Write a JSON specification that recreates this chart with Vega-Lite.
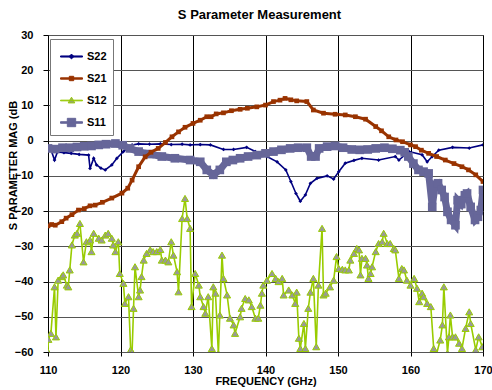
{
  "$schema": "https://vega.github.io/schema/vega-lite/v6.json",
  "width": 435,
  "height": 317,
  "autosize": "none",
  "padding": {"left": 48, "top": 35, "right": 9, "bottom": 38},
  "background": "white",
  "config": {"font": "Liberation Sans", "view": {"stroke": "black", "strokeWidth": 1}},
  "title": {"text": "S Parameter Measurement", "font": "Liberation Sans", "fontSize": 13, "fontWeight": "bold", "color": "black", "anchor": "middle", "offset": 7, "dx": -6},
  "datasets": {
    "s22": [
      {"s":"S22","f":110.0,"db":-2.0},{"s":"S22","f":110.4,"db":-2.5},{"s":"S22","f":110.9,"db":-5.5},{"s":"S22","f":111.3,"db":-3.2},
      {"s":"S22","f":112.2,"db":-3.4},{"s":"S22","f":113.2,"db":-3.6},{"s":"S22","f":114.3,"db":-3.9},{"s":"S22","f":115.6,"db":-4.1},
      {"s":"S22","f":115.8,"db":-7.9},{"s":"S22","f":116.3,"db":-5.0},{"s":"S22","f":116.7,"db":-6.9},{"s":"S22","f":117.3,"db":-7.8},
      {"s":"S22","f":117.9,"db":-8.3},{"s":"S22","f":118.8,"db":-6.9},{"s":"S22","f":119.5,"db":-5.0},{"s":"S22","f":120.4,"db":-3.1},
      {"s":"S22","f":121.6,"db":-1.2},{"s":"S22","f":122.5,"db":-0.9},{"s":"S22","f":124.0,"db":-1.0},{"s":"S22","f":125.5,"db":-0.9},
      {"s":"S22","f":127.0,"db":-1.1},{"s":"S22","f":128.5,"db":-1.0},{"s":"S22","f":129.6,"db":-1.2},{"s":"S22","f":131.0,"db":-1.1},
      {"s":"S22","f":132.4,"db":-1.2},{"s":"S22","f":134.2,"db":-2.5},{"s":"S22","f":135.6,"db":-2.5},{"s":"S22","f":137.4,"db":-1.9},
      {"s":"S22","f":138.6,"db":-3.1},{"s":"S22","f":140.2,"db":-4.5},{"s":"S22","f":141.6,"db":-6.0},{"s":"S22","f":142.8,"db":-8.3},
      {"s":"S22","f":143.5,"db":-11.6},{"s":"S22","f":144.2,"db":-15.0},{"s":"S22","f":144.8,"db":-17.2},{"s":"S22","f":145.5,"db":-15.4},
      {"s":"S22","f":146.2,"db":-12.1},{"s":"S22","f":147.1,"db":-10.7},{"s":"S22","f":148.5,"db":-10.0},{"s":"S22","f":149.4,"db":-10.9},
      {"s":"S22","f":150.1,"db":-8.8},{"s":"S22","f":151.0,"db":-6.4},{"s":"S22","f":152.2,"db":-5.6},{"s":"S22","f":153.3,"db":-5.0},
      {"s":"S22","f":155.6,"db":-5.5},{"s":"S22","f":157.9,"db":-4.5},{"s":"S22","f":158.4,"db":-5.5},{"s":"S22","f":159.8,"db":-3.1},
      {"s":"S22","f":161.6,"db":-4.0},{"s":"S22","f":162.3,"db":-6.0},{"s":"S22","f":163.0,"db":-4.5},{"s":"S22","f":163.9,"db":-2.7},
      {"s":"S22","f":165.8,"db":-1.9},{"s":"S22","f":168.1,"db":-2.1},{"s":"S22","f":170.0,"db":-1.2}
    ],
    "s21": [
      {"s":"S21","f":110.0,"db":-24.2},{"s":"S21","f":110.5,"db":-23.8},{"s":"S21","f":111.0,"db":-24.0},{"s":"S21","f":111.9,"db":-23.0},
      {"s":"S21","f":112.5,"db":-22.0},{"s":"S21","f":113.3,"db":-21.0},{"s":"S21","f":114.2,"db":-19.7},{"s":"S21","f":115.0,"db":-19.3},
      {"s":"S21","f":115.8,"db":-18.5},{"s":"S21","f":116.5,"db":-18.3},{"s":"S21","f":117.5,"db":-17.5},{"s":"S21","f":118.8,"db":-16.3},
      {"s":"S21","f":120.2,"db":-14.9},{"s":"S21","f":121.0,"db":-13.5},{"s":"S21","f":121.6,"db":-11.2},{"s":"S21","f":122.5,"db":-7.4},
      {"s":"S21","f":123.4,"db":-4.6},{"s":"S21","f":124.2,"db":-3.3},{"s":"S21","f":125.2,"db":-2.2},{"s":"S21","f":126.2,"db":-0.5},
      {"s":"S21","f":127.1,"db":1.1},{"s":"S21","f":128.0,"db":2.5},{"s":"S21","f":128.9,"db":3.8},{"s":"S21","f":130.0,"db":4.9},
      {"s":"S21","f":131.0,"db":5.8},{"s":"S21","f":131.9,"db":6.8},{"s":"S21","f":132.5,"db":6.8},{"s":"S21","f":133.2,"db":7.6},
      {"s":"S21","f":134.2,"db":7.9},{"s":"S21","f":135.3,"db":8.5},{"s":"S21","f":136.5,"db":8.9},{"s":"S21","f":137.5,"db":9.2},
      {"s":"S21","f":138.8,"db":9.6},{"s":"S21","f":140.0,"db":10.1},{"s":"S21","f":141.1,"db":11.1},{"s":"S21","f":142.0,"db":11.5},
      {"s":"S21","f":142.7,"db":12.0},{"s":"S21","f":143.5,"db":11.6},{"s":"S21","f":144.3,"db":11.3},{"s":"S21","f":145.7,"db":11.1},
      {"s":"S21","f":146.6,"db":8.7},{"s":"S21","f":148.0,"db":7.8},{"s":"S21","f":149.6,"db":7.5},{"s":"S21","f":151.0,"db":7.3},
      {"s":"S21","f":152.4,"db":6.8},{"s":"S21","f":153.8,"db":6.1},{"s":"S21","f":155.2,"db":4.0},{"s":"S21","f":156.0,"db":2.8},
      {"s":"S21","f":157.0,"db":1.1},{"s":"S21","f":158.0,"db":0.2},{"s":"S21","f":158.9,"db":-0.3},{"s":"S21","f":160.0,"db":-1.2},
      {"s":"S21","f":160.7,"db":-1.7},{"s":"S21","f":161.5,"db":-2.7},{"s":"S21","f":162.5,"db":-3.6},{"s":"S21","f":163.6,"db":-4.5},
      {"s":"S21","f":164.8,"db":-5.5},{"s":"S21","f":166.0,"db":-6.5},{"s":"S21","f":167.1,"db":-7.4},{"s":"S21","f":168.0,"db":-8.3},
      {"s":"S21","f":169.0,"db":-9.7},{"s":"S21","f":170.0,"db":-11.6}
    ],
    "s11": [
      {"s":"S11","f":110.0,"db":-2.2},{"s":"S11","f":111.0,"db":-2.4},{"s":"S11","f":112.0,"db":-2.0},{"s":"S11","f":113.0,"db":-2.0},
      {"s":"S11","f":114.0,"db":-1.8},{"s":"S11","f":115.0,"db":-1.6},{"s":"S11","f":116.0,"db":-1.5},{"s":"S11","f":117.0,"db":-1.2},
      {"s":"S11","f":118.0,"db":-1.0},{"s":"S11","f":119.3,"db":-0.8},{"s":"S11","f":120.3,"db":-1.3},{"s":"S11","f":121.3,"db":-2.2},
      {"s":"S11","f":122.5,"db":-3.1},{"s":"S11","f":124.0,"db":-3.8},{"s":"S11","f":125.7,"db":-4.5},{"s":"S11","f":127.5,"db":-5.0},
      {"s":"S11","f":129.6,"db":-5.5},{"s":"S11","f":131.0,"db":-6.0},{"s":"S11","f":131.9,"db":-8.3},{"s":"S11","f":132.8,"db":-9.7},
      {"s":"S11","f":133.7,"db":-8.3},{"s":"S11","f":134.6,"db":-6.0},{"s":"S11","f":135.5,"db":-5.5},{"s":"S11","f":136.5,"db":-5.0},
      {"s":"S11","f":137.6,"db":-4.5},{"s":"S11","f":138.8,"db":-4.1},{"s":"S11","f":140.0,"db":-3.6},{"s":"S11","f":141.1,"db":-3.1},
      {"s":"S11","f":142.2,"db":-2.6},{"s":"S11","f":143.4,"db":-2.2},{"s":"S11","f":144.5,"db":-2.0},{"s":"S11","f":145.7,"db":-2.0},
      {"s":"S11","f":146.3,"db":-4.5},{"s":"S11","f":146.9,"db":-4.5},{"s":"S11","f":147.4,"db":-2.2},{"s":"S11","f":148.5,"db":-1.7},
      {"s":"S11","f":149.6,"db":-1.5},{"s":"S11","f":150.7,"db":-2.0},{"s":"S11","f":151.9,"db":-2.5},{"s":"S11","f":153.0,"db":-2.6},
      {"s":"S11","f":154.1,"db":-2.5},{"s":"S11","f":155.2,"db":-2.2},{"s":"S11","f":156.4,"db":-2.0},{"s":"S11","f":157.5,"db":-2.3},
      {"s":"S11","f":158.6,"db":-2.7},{"s":"S11","f":159.2,"db":-3.3},{"s":"S11","f":159.7,"db":-4.5},{"s":"S11","f":160.4,"db":-6.5},
      {"s":"S11","f":161.1,"db":-8.3},{"s":"S11","f":161.8,"db":-8.8},{"s":"S11","f":162.5,"db":-9.3},{"s":"S11","f":163.0,"db":-18.8},
      {"s":"S11","f":163.4,"db":-12.5},{"s":"S11","f":163.8,"db":-12.1},{"s":"S11","f":164.3,"db":-14.0},{"s":"S11","f":164.7,"db":-16.0},
      {"s":"S11","f":165.1,"db":-20.2},{"s":"S11","f":165.6,"db":-22.5},{"s":"S11","f":166.2,"db":-24.0},{"s":"S11","f":166.5,"db":-16.9},
      {"s":"S11","f":167.0,"db":-18.0},{"s":"S11","f":167.5,"db":-15.5},{"s":"S11","f":167.8,"db":-15.0},{"s":"S11","f":168.3,"db":-18.8},
      {"s":"S11","f":168.9,"db":-22.5},{"s":"S11","f":169.3,"db":-21.6},{"s":"S11","f":169.7,"db":-19.7},{"s":"S11","f":170.0,"db":-14.0}
    ],
    "s12": [
      {"s":"S12","f":110.0,"db":-60.0},{"s":"S12","f":110.05,"db":-56.4},{"s":"S12","f":110.4,"db":-54.7},{"s":"S12","f":110.9,"db":-41.5},
      {"s":"S12","f":111.1,"db":-55.7},{"s":"S12","f":111.4,"db":-39.6},{"s":"S12","f":111.9,"db":-38.6},{"s":"S12","f":112.1,"db":-38.1},
      {"s":"S12","f":112.6,"db":-41.0},{"s":"S12","f":112.8,"db":-41.5},{"s":"S12","f":113.0,"db":-36.7},{"s":"S12","f":113.3,"db":-29.6},
      {"s":"S12","f":113.7,"db":-26.8},{"s":"S12","f":114.0,"db":-26.3},{"s":"S12","f":114.4,"db":-23.5},{"s":"S12","f":114.9,"db":-34.4},
      {"s":"S12","f":115.3,"db":-28.7},{"s":"S12","f":115.8,"db":-28.2},{"s":"S12","f":116.0,"db":-31.5},{"s":"S12","f":116.3,"db":-26.3},
      {"s":"S12","f":117.0,"db":-27.7},{"s":"S12","f":117.4,"db":-28.2},{"s":"S12","f":117.9,"db":-26.8},{"s":"S12","f":118.3,"db":-26.3},
      {"s":"S12","f":118.8,"db":-27.7},{"s":"S12","f":119.0,"db":-29.6},{"s":"S12","f":119.3,"db":-31.5},{"s":"S12","f":119.7,"db":-28.7},
      {"s":"S12","f":119.9,"db":-37.7},{"s":"S12","f":120.4,"db":-40.5},{"s":"S12","f":120.6,"db":-46.2},{"s":"S12","f":121.1,"db":-44.3},
      {"s":"S12","f":121.4,"db":-59.4},{"s":"S12","f":121.6,"db":-60.0},{"s":"S12","f":121.8,"db":-47.6},{"s":"S12","f":122.0,"db":-35.8},
      {"s":"S12","f":122.5,"db":-44.3},{"s":"S12","f":122.7,"db":-42.4},{"s":"S12","f":122.9,"db":-38.6},{"s":"S12","f":123.2,"db":-33.9},
      {"s":"S12","f":123.6,"db":-32.0},{"s":"S12","f":124.1,"db":-31.0},{"s":"S12","f":124.5,"db":-31.5},{"s":"S12","f":125.0,"db":-31.5},
      {"s":"S12","f":125.5,"db":-30.9},{"s":"S12","f":125.7,"db":-33.9},{"s":"S12","f":126.2,"db":-33.9},{"s":"S12","f":126.6,"db":-34.4},
      {"s":"S12","f":127.0,"db":-28.7},{"s":"S12","f":127.3,"db":-32.5},{"s":"S12","f":127.8,"db":-37.2},{"s":"S12","f":128.0,"db":-42.9},
      {"s":"S12","f":128.5,"db":-22.1},{"s":"S12","f":128.9,"db":-16.4},{"s":"S12","f":129.2,"db":-22.1},{"s":"S12","f":129.6,"db":-24.9},
      {"s":"S12","f":129.8,"db":-47.1},{"s":"S12","f":130.3,"db":-37.7},{"s":"S12","f":130.8,"db":-41.0},{"s":"S12","f":131.0,"db":-44.3},
      {"s":"S12","f":131.45,"db":-47.1},{"s":"S12","f":131.7,"db":-49.0},{"s":"S12","f":132.1,"db":-44.3},{"s":"S12","f":132.6,"db":-59.0},
      {"s":"S12","f":132.8,"db":-41.5},{"s":"S12","f":133.1,"db":-43.3},{"s":"S12","f":133.5,"db":-60.5},{"s":"S12","f":133.7,"db":-49.5},
      {"s":"S12","f":134.0,"db":-32.5},{"s":"S12","f":134.2,"db":-39.1},{"s":"S12","f":134.7,"db":-43.8},{"s":"S12","f":135.1,"db":-50.4},
      {"s":"S12","f":135.6,"db":-52.3},{"s":"S12","f":135.8,"db":-54.7},{"s":"S12","f":136.5,"db":-50.0},{"s":"S12","f":136.7,"db":-47.6},
      {"s":"S12","f":137.2,"db":-44.8},{"s":"S12","f":137.7,"db":-45.2},{"s":"S12","f":138.1,"db":-47.1},{"s":"S12","f":138.6,"db":-50.4},
      {"s":"S12","f":139.0,"db":-50.4},{"s":"S12","f":139.3,"db":-46.7},{"s":"S12","f":139.5,"db":-43.3},{"s":"S12","f":139.7,"db":-41.0},
      {"s":"S12","f":140.2,"db":-39.6},{"s":"S12","f":140.9,"db":-37.7},{"s":"S12","f":141.4,"db":-39.1},{"s":"S12","f":141.8,"db":-40.0},
      {"s":"S12","f":142.3,"db":-39.1},{"s":"S12","f":142.5,"db":-43.8},{"s":"S12","f":143.2,"db":-42.4},{"s":"S12","f":143.7,"db":-43.8},
      {"s":"S12","f":144.1,"db":-46.2},{"s":"S12","f":144.3,"db":-43.0},{"s":"S12","f":144.6,"db":-56.1},{"s":"S12","f":144.8,"db":-59.0},
      {"s":"S12","f":145.3,"db":-51.9},{"s":"S12","f":145.5,"db":-59.0},{"s":"S12","f":145.9,"db":-47.6},{"s":"S12","f":146.2,"db":-43.0},
      {"s":"S12","f":146.6,"db":-39.1},{"s":"S12","f":147.0,"db":-58.5},{"s":"S12","f":147.3,"db":-41.0},{"s":"S12","f":147.8,"db":-24.9},
      {"s":"S12","f":148.0,"db":-43.8},{"s":"S12","f":148.3,"db":-43.3},{"s":"S12","f":148.9,"db":-41.5},{"s":"S12","f":149.4,"db":-39.6},
      {"s":"S12","f":149.8,"db":-32.9},{"s":"S12","f":150.1,"db":-36.3},{"s":"S12","f":150.6,"db":-36.5},{"s":"S12","f":151.0,"db":-36.7},
      {"s":"S12","f":151.5,"db":-36.7},{"s":"S12","f":151.7,"db":-33.9},{"s":"S12","f":152.2,"db":-32.0},{"s":"S12","f":152.6,"db":-30.6},
      {"s":"S12","f":152.9,"db":-31.0},{"s":"S12","f":153.1,"db":-38.1},{"s":"S12","f":153.3,"db":-33.4},{"s":"S12","f":153.8,"db":-33.4},
      {"s":"S12","f":154.0,"db":-35.3},{"s":"S12","f":154.2,"db":-39.1},{"s":"S12","f":154.5,"db":-37.7},{"s":"S12","f":154.7,"db":-35.8},
      {"s":"S12","f":155.2,"db":-31.5},{"s":"S12","f":155.6,"db":-29.2},{"s":"S12","f":156.1,"db":-28.7},{"s":"S12","f":156.3,"db":-26.3},
      {"s":"S12","f":156.8,"db":-29.2},{"s":"S12","f":157.2,"db":-29.2},{"s":"S12","f":157.7,"db":-30.6},{"s":"S12","f":157.9,"db":-31.0},
      {"s":"S12","f":158.4,"db":-39.1},{"s":"S12","f":158.8,"db":-36.3},{"s":"S12","f":159.1,"db":-36.7},{"s":"S12","f":159.5,"db":-39.6},
      {"s":"S12","f":160.0,"db":-41.0},{"s":"S12","f":160.5,"db":-39.1},{"s":"S12","f":160.9,"db":-41.9},{"s":"S12","f":161.2,"db":-45.7},
      {"s":"S12","f":161.6,"db":-43.3},{"s":"S12","f":161.8,"db":-44.3},{"s":"S12","f":162.3,"db":-46.2},{"s":"S12","f":162.8,"db":-47.1},
      {"s":"S12","f":163.2,"db":-59.0},{"s":"S12","f":163.6,"db":-60.5},{"s":"S12","f":164.1,"db":-56.6},{"s":"S12","f":164.4,"db":-52.3},
      {"s":"S12","f":164.6,"db":-41.5},{"s":"S12","f":165.1,"db":-60.4},{"s":"S12","f":165.3,"db":-55.7},{"s":"S12","f":165.5,"db":-49.5},
      {"s":"S12","f":165.8,"db":-55.7},{"s":"S12","f":166.2,"db":-55.7},{"s":"S12","f":166.7,"db":-57.5},{"s":"S12","f":167.1,"db":-59.0},
      {"s":"S12","f":167.6,"db":-53.3},{"s":"S12","f":168.1,"db":-48.6},{"s":"S12","f":168.3,"db":-51.9},{"s":"S12","f":169.0,"db":-59.4},
      {"s":"S12","f":169.4,"db":-55.7},{"s":"S12","f":169.9,"db":-58.5}
    ]
  },
  "encoding": {
    "x": {"field": "f", "type": "quantitative",
      "scale": {"domain": [110, 170], "nice": false, "zero": false},
      "axis": {"title": "FREQUENCY (GHz)", "values": [110,120,130,140,150,160,170], "grid": true, "gridColor": "black", "gridWidth": 1, "domain": false,
        "ticks": true, "tickSize": 4, "tickColor": "black", "labelPadding": 8, "labelFont": "Liberation Sans", "labelFontSize": 11, "labelFontWeight": "bold", "labelColor": "black",
        "labelFlush": false, "titleFont": "Liberation Sans", "titleFontSize": 11, "titleFontWeight": "bold", "titleColor": "black", "titlePadding": 0}},
    "y": {"field": "db", "type": "quantitative",
      "scale": {"domain": [-60, 30], "nice": false, "zero": false},
      "axis": {"title": "S PARAMETER MAG (dB", "values": [-60,-50,-40,-30,-20,-10,0,10,20,30], "grid": true, "gridColor": "#555555", "gridWidth": 1, "domain": false,
        "ticks": true, "tickSize": 5, "tickColor": "black", "labelPadding": 10, "labelFont": "Liberation Sans", "labelFontSize": 11, "labelFontWeight": "bold", "labelColor": "black",
        "labelFlush": false, "titleFont": "Liberation Sans", "titleFontSize": 11, "titleFontWeight": "bold", "titleColor": "black", "titleX": -32, "titleY": 130, "titleAngle": -90, "titleAlign": "center", "titleBaseline": "alphabetic"}}
  },
  "layer": [
    {"data": {"name": "s22"}, "mark": {"type": "line", "strokeWidth": 1.6, "clip": true},
     "encoding": {"color": {"field": "s", "type": "nominal",
       "scale": {"domain": ["S22","S21","S12","S11"], "range": ["#000080","#993300","#99CC00","#666699"]},
       "legend": {"orient": "none", "legendX": 2, "legendY": 4, "title": null, "padding": 6, "strokeColor": "#777777", "fillColor": "white",
         "labelFont": "Liberation Sans", "labelFontSize": 11, "labelFontWeight": "bold", "labelColor": "black", "labelOffset": 4,
         "symbolSize": 484, "symbolOffset": 4, "rowPadding": 5,
         "encode": {"symbols": {"update": {
           "shape": {"signal": "datum.value === 'S22' ? 'M-1,-0.05H1V0.05H-1Z M0,-0.22L0.22,0L0,0.22L-0.22,0Z' : datum.value === 'S21' ? 'M-1,-0.06H1V0.06H-1Z M-0.2,-0.2H0.2V0.2H-0.2Z' : datum.value === 'S12' ? 'M-1,-0.03H1V0.03H-1Z M0,-0.3L0.3,0.22H-0.3Z' : 'M-1,-0.07H1V0.07H-1Z M-0.38,-0.38H0.38V0.38H-0.38Z'"},
           "fill": {"signal": "datum.value === 'S22' ? '#000080' : datum.value === 'S21' ? '#993300' : datum.value === 'S12' ? '#999999' : '#666699'"},
           "stroke": {"signal": "datum.value === 'S12' ? '#99CC00' : 'transparent'"},
           "strokeWidth": {"value": 1},
           "opacity": {"value": 1},
           "fillOpacity": {"value": 1},
           "strokeOpacity": {"value": 1}
         }}}}}}},
    {"data": {"name": "s22"}, "mark": {"type": "point", "shape": "diamond", "filled": true, "size": 14, "color": "#000080", "opacity": 1, "clip": true}},
    {"data": {"name": "s11"}, "mark": {"type": "line", "strokeWidth": 7, "clip": true}, "encoding": {"color": {"field": "s", "type": "nominal"}}},
    {"data": {"name": "s11"}, "mark": {"type": "point", "shape": "square", "filled": true, "size": 75, "color": "#666699", "opacity": 1, "clip": true}},
    {"data": {"name": "s21"}, "mark": {"type": "line", "strokeWidth": 3, "clip": true}, "encoding": {"color": {"field": "s", "type": "nominal"}}},
    {"data": {"name": "s21"}, "mark": {"type": "point", "shape": "square", "filled": true, "size": 22, "color": "#993300", "opacity": 1, "clip": true}},
    {"data": {"name": "s12"}, "mark": {"type": "line", "strokeWidth": 1.6, "clip": true}, "encoding": {"color": {"field": "s", "type": "nominal"}}},
    {"data": {"name": "s12"}, "mark": {"type": "point", "shape": "triangle-up", "filled": true, "size": 50, "fill": "#999999", "stroke": "#99CC00", "strokeWidth": 1, "opacity": 1, "clip": true}}
  ]
}
